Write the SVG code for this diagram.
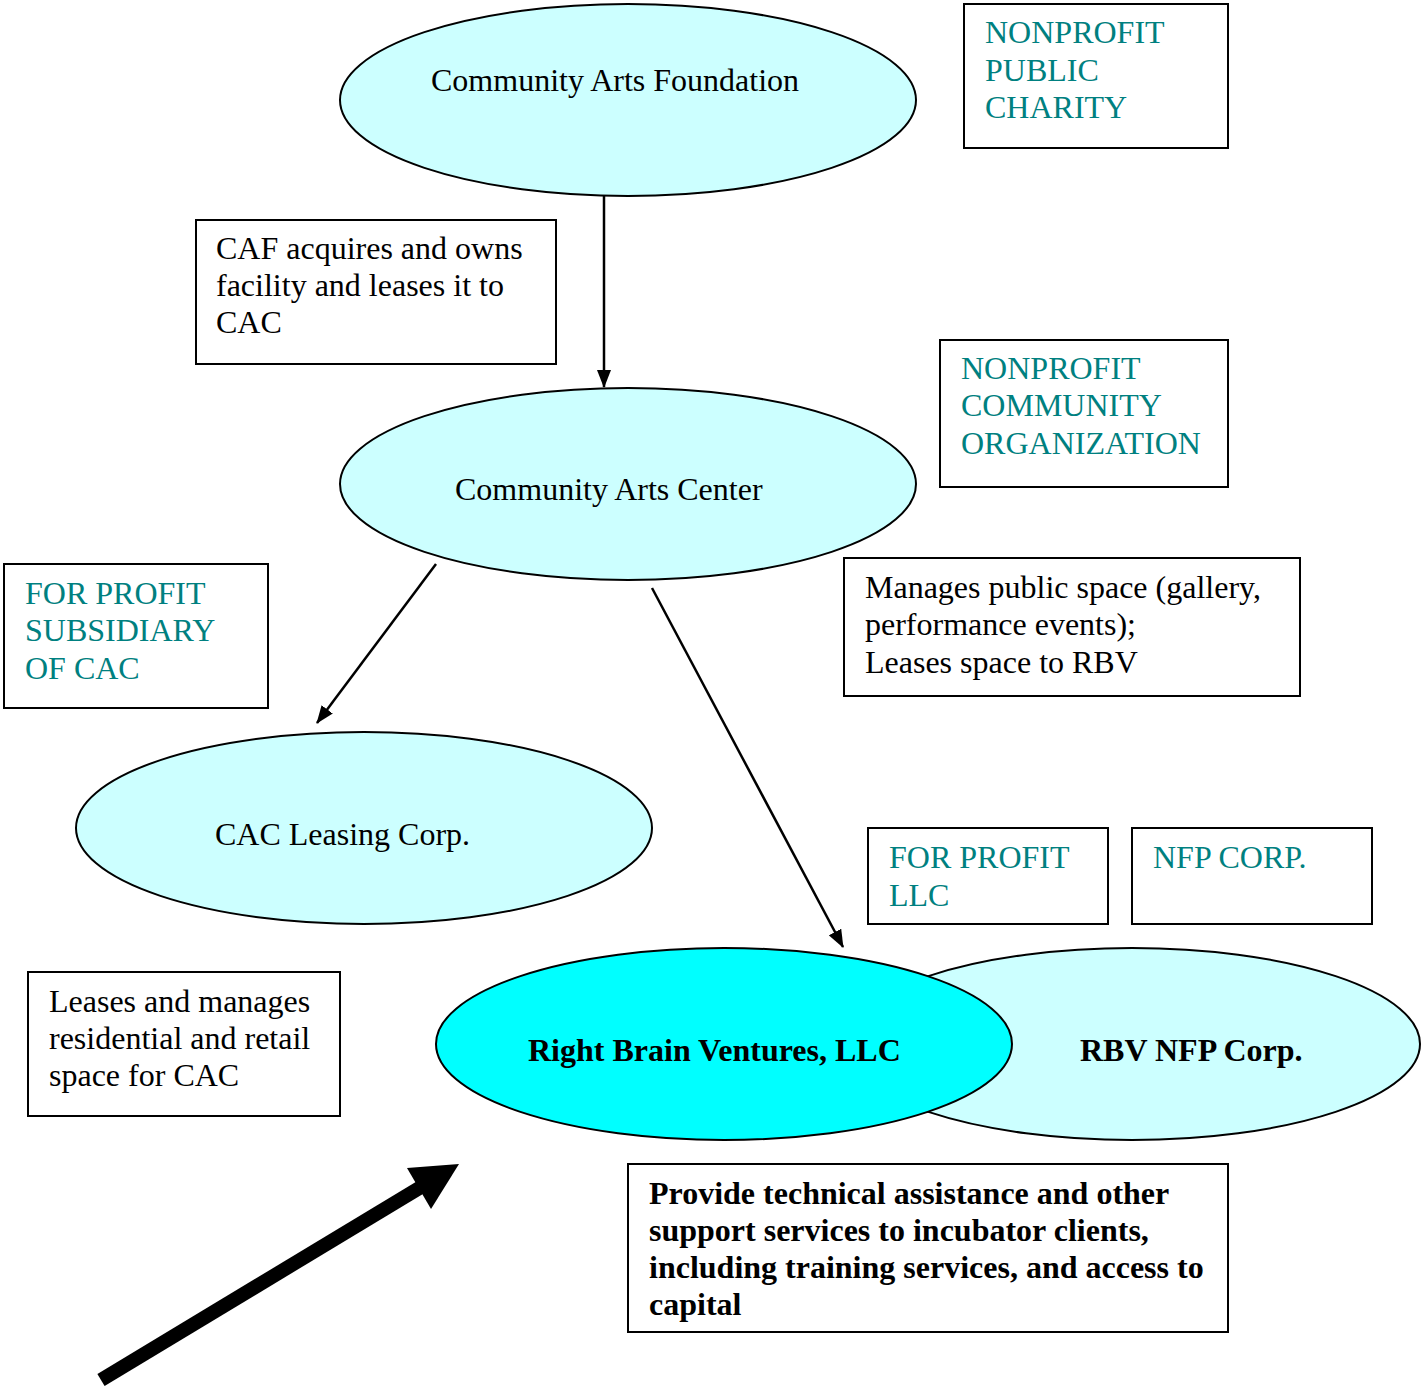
<svg xmlns="http://www.w3.org/2000/svg" width="1422" height="1388" viewBox="0 0 1422 1388">
<style>
text{font-family:"Liberation Serif","Times New Roman",serif;font-size:32px;fill:#000}
.t{fill:#008080}
.b{font-weight:bold}
.box{fill:#fff;stroke:#000;stroke-width:2}
.ell{fill:#ccffff;stroke:#000;stroke-width:2}
.conn{stroke:#000;stroke-width:2.5;fill:none}
</style>
<defs>
<marker id="ah" markerUnits="userSpaceOnUse" markerWidth="18" markerHeight="14" refX="17" refY="7" orient="auto">
<path d="M0,0 L18,7 L0,14 Z" fill="#000"/>
</marker>
</defs>
<rect width="1422" height="1388" fill="#fff"/>

<g id="connectors">
<line class="conn" x1="604" y1="196" x2="604" y2="387" marker-end="url(#ah)"/>
<line class="conn" x1="436" y1="564" x2="317" y2="723" marker-end="url(#ah)"/>
<line class="conn" x1="652" y1="588" x2="843" y2="947" marker-end="url(#ah)"/>
</g>

<g id="caf">
<ellipse class="ell" cx="628" cy="100" rx="288" ry="96"/>
<text x="431" y="91">Community Arts Foundation</text>
</g>

<g id="cac">
<ellipse class="ell" cx="628" cy="484" rx="288" ry="96"/>
<text x="455" y="500">Community Arts Center</text>
</g>

<g id="cac-leasing">
<ellipse class="ell" cx="364" cy="828" rx="288" ry="96"/>
<text x="215" y="845">CAC Leasing Corp.</text>
</g>

<g id="rbv-nfp">
<ellipse class="ell" cx="1132" cy="1044" rx="288" ry="96"/>
<text class="b" x="1080" y="1061">RBV NFP Corp.</text>
</g>

<g id="rbv-llc">
<ellipse cx="724" cy="1044" rx="288" ry="96" fill="#00ffff" stroke="#000" stroke-width="2"/>
<text class="b" x="528" y="1061">Right Brain Ventures, LLC</text>
</g>

<g id="label-public-charity">
<rect class="box" x="964" y="4" width="264" height="144"/>
<text class="t" x="985" y="43">NONPROFIT</text>
<text class="t" x="985" y="81">PUBLIC</text>
<text class="t" x="985" y="118">CHARITY</text>
</g>

<g id="note-caf">
<rect class="box" x="196" y="220" width="360" height="144"/>
<text x="216" y="259">CAF acquires and owns</text>
<text x="216" y="296">facility and leases it to</text>
<text x="216" y="333">CAC</text>
</g>

<g id="label-community-org">
<rect class="box" x="940" y="340" width="288" height="147"/>
<text class="t" x="961" y="379">NONPROFIT</text>
<text class="t" x="961" y="416">COMMUNITY</text>
<text class="t" x="961" y="454">ORGANIZATION</text>
</g>

<g id="label-subsidiary">
<rect class="box" x="4" y="564" width="264" height="144"/>
<text class="t" x="25" y="604">FOR PROFIT</text>
<text class="t" x="25" y="641">SUBSIDIARY</text>
<text class="t" x="25" y="679">OF CAC</text>
</g>

<g id="note-cac">
<rect class="box" x="844" y="558" width="456" height="138"/>
<text x="865" y="598">Manages public space (gallery,</text>
<text x="865" y="635">performance events);</text>
<text x="865" y="673">Leases space to RBV</text>
</g>

<g id="label-llc">
<rect class="box" x="868" y="828" width="240" height="96"/>
<text class="t" x="889" y="868">FOR PROFIT</text>
<text class="t" x="889" y="906">LLC</text>
</g>

<g id="label-nfp">
<rect class="box" x="1132" y="828" width="240" height="96"/>
<text class="t" x="1153" y="868">NFP CORP.</text>
</g>

<g id="note-leasing">
<rect class="box" x="28" y="972" width="312" height="144"/>
<text x="49" y="1012">Leases and manages</text>
<text x="49" y="1049">residential and retail</text>
<text x="49" y="1086">space for CAC</text>
</g>

<g id="note-rbv">
<rect class="box" x="628" y="1164" width="600" height="168"/>
<text class="b" x="649" y="1204">Provide technical assistance and other</text>
<text class="b" x="649" y="1241">support services to incubator clients,</text>
<text class="b" x="649" y="1278">including training services, and access to</text>
<text class="b" x="649" y="1315">capital</text>
</g>

<g id="big-arrow">
<line x1="101" y1="1380" x2="421" y2="1187" stroke="#000" stroke-width="14"/>
<polygon points="407,1168 459,1164 431,1209" fill="#000"/>
</g>
</svg>
